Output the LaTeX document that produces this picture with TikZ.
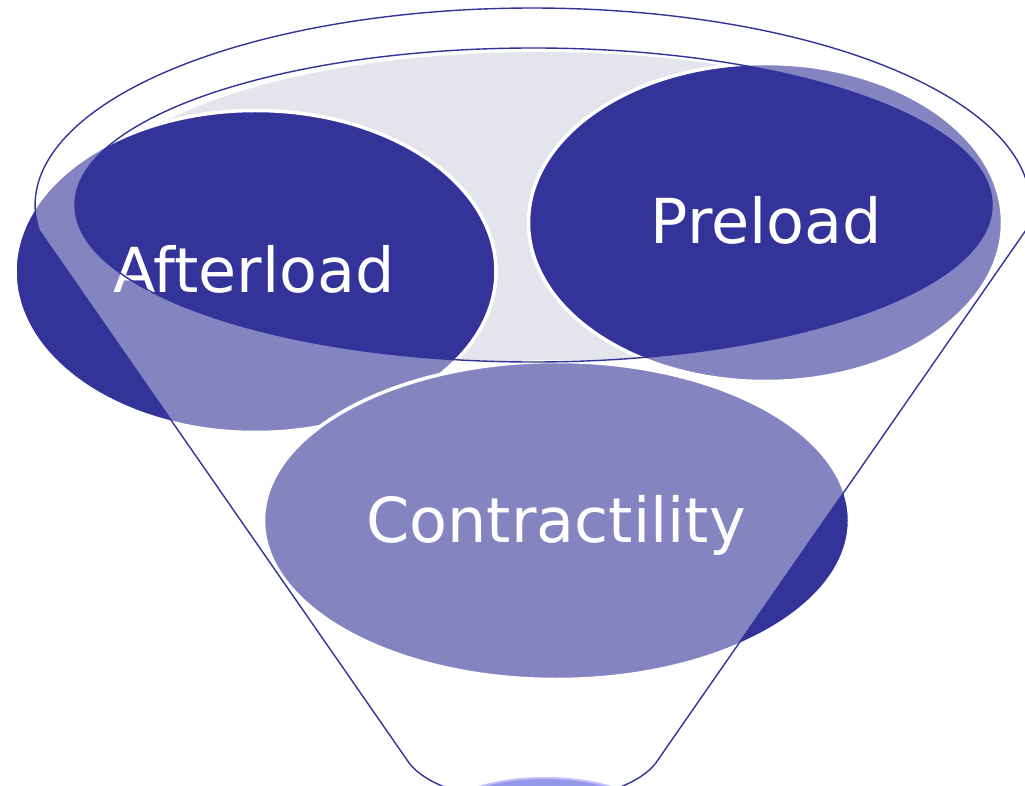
\documentclass[tikz,border=0pt]{standalone}
\usepackage{fontspec}
\setmainfont{DejaVu Sans}
\usetikzlibrary{shapes.geometric}
\definecolor{navy}{RGB}{51,51,153}
\definecolor{mouthgrey}{RGB}{228,228,236}
\definecolor{resultblue}{RGB}{150,150,235}
\definecolor{resultrim}{RGB}{192,192,246}

\begin{document}
\begin{tikzpicture}[x=1pt,y=1pt,
  lobe/.style={ellipse, fill=navy, draw=white, line width=3.5pt, inner sep=0pt},
  lobetext/.style={text=white, font=\fontsize{62}{70}\selectfont, anchor=base, inner sep=0pt},
  rim/.style={draw=navy, line width=1.4pt}]
\useasboundingbox (0,-786) rectangle (1025,0);
\fill[white] (0,-786) rectangle (1025,0);
\clip (0,-786) rectangle (1025,0);

% grey mouth of the funnel
\fill[mouthgrey] (540,-207) ellipse [x radius=450, y radius=155];

% the three factors
\node[lobe, minimum width=481pt, minimum height=322pt] (after) at (255.5,-271.5) {};
\node[lobetext] (afterlabel) at (254,-293) {Afterload};
\node[lobe, minimum width=474pt, minimum height=318pt] (pre) at (765.5,-222.5) {};
\node[lobetext] (prelabel) at (766.5,-244) {Preload};
\node[lobe, minimum width=586pt, minimum height=318pt] (contr) at (556.5,-520.5) {};
\node[lobetext] (contrlabel) at (556,-542) {Contractility};

% translucent funnel body with the mouth left open
\fill[white, fill opacity=0.4, even odd rule]
  (39,-230) -- (406.9,-759.75)
  arc[start angle=195, end angle=345, x radius=130, y radius=57]
  -- (1026,-230)
  arc[start angle=-7.29, end angle=187.29, x radius=497.5, y radius=197]
  -- cycle
  (533.5,-205) ellipse [x radius=458.5, y radius=157];

% funnel outline and rim of the mouth
\draw[rim]
  (39,-230) -- (406.9,-759.75)
  arc[start angle=195, end angle=345, x radius=130, y radius=57]
  -- (1026,-230)
  arc[start angle=-7.29, end angle=187.29, x radius=497.5, y radius=197]
  -- cycle;
\draw[rim] (533.5,-205) ellipse [x radius=458.5, y radius=157];

% result below the spout
\node[ellipse, fill=resultblue, draw=resultrim, line width=2pt, inner sep=0pt,
      minimum width=210pt, minimum height=80pt] (result) at (545,-818) {};
\end{tikzpicture}
\end{document}
